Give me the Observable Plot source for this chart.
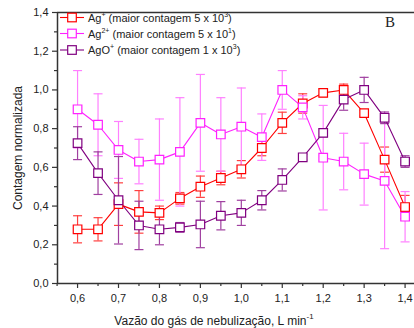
<!DOCTYPE html>
<html><head><meta charset="utf-8">
<script src="https://cdn.jsdelivr.net/npm/d3@7"></script>
<script src="https://cdn.jsdelivr.net/npm/@observablehq/plot@0.6"></script>
<style>
html,body{margin:0;padding:0;background:#fff;}
#chart{position:relative;width:414px;height:328px;overflow:hidden;font-family:"Liberation Sans",Arial,sans-serif;}
</style></head><body><div id="chart"></div>
<script>
const flow = [0.6,0.65,0.7,0.75,0.8,0.85,0.9,0.95,1.0,1.05,1.1,1.15,1.2,1.25,1.3,1.35,1.4];
const agPlus    = [0.28,0.28,0.41,0.37,0.365,0.44,0.50,0.545,0.59,0.70,0.83,0.93,0.985,1.00,0.88,0.64,0.395];
const agPlusErr = [0.07,0.06,0.11,0.11,0.035,0.03,0.055,0.035,0.045,0.04,0.055,0.05,0.02,0.03,0.015,0.065,0.06];
const ag2Plus    = [0.90,0.82,0.69,0.63,0.64,0.68,0.83,0.77,0.81,0.756,1.00,0.91,0.65,0.63,0.565,0.53,0.345];
const ag2PlusErr = [0.2,0.16,0.147,0.115,0.21,0.28,0.25,0.19,0.2,0.12,0.1,0.06,0.27,0.146,0.16,0.35,0.13];
const agOPlus    = [0.725,0.57,0.43,0.30,0.28,0.29,0.305,0.35,0.365,0.43,0.535,0.652,0.778,0.95,1.0,0.856,0.63];
const agOPlusErr = [0.085,0.11,0.226,0.125,0.08,0.025,0.12,0.073,0.065,0.05,0.057,0.015,0.02,0.055,0.065,0.03,0.03];
const seriesNames = ["Ag+","Ag2+","AgO+"];
const legendMain = ["Ag","Ag","AgO"];
const legendCharge = ["+","2+","+"];
const legendRest = [" (maior contagem 5 x 10"," (maior contagem 5 x 10"," (maior contagem 1 x 10"];
const legendExp = ["3","1","3"];
const lineColors = ["#ff0000","#ff22ff","#800080"];
const errColors = ["#ff4040","#ff80ff","#a040a0"];
const xTicks = [0.6,0.7,0.8,0.9,1.0,1.1,1.2,1.3,1.4];
const xMinor = [0.55,0.65,0.75,0.85,0.95,1.05,1.15,1.25,1.35];
const yTicks = [0,0.2,0.4,0.6,0.8,1.0,1.2,1.4];
const yMinor = [0.1,0.3,0.5,0.7,0.9,1.1,1.3];
const xDomain = [0.551, 1.423];
const yDomain = [0, 1.4];

const allVals = [agPlus, ag2Plus, agOPlus];
const allErr = [agPlusErr, ag2PlusErr, agOPlusErr];
const rows = [];
seriesNames.forEach((s, i) => flow.forEach((x, j) => rows.push({series: s, x, y: allVals[i][j], lo: allVals[i][j]-allErr[i][j], hi: allVals[i][j]+allErr[i][j]})));

const squareSym = {draw(ctx){ const h = 4.3; ctx.moveTo(-h,-h); ctx.lineTo(h,-h); ctx.lineTo(h,h); ctx.lineTo(-h,h); ctx.closePath(); }};
const capSym = {draw(ctx){ const w = 4.5; ctx.moveTo(-w,0); ctx.lineTo(w,0); }};
const fmt = d => d.toFixed(1).replace(".", ",");
const errScaleMap = new Map(seriesNames.map((s,i)=>[s, errColors[i]]));
const lineMap = new Map(seriesNames.map((s,i)=>[s, lineColors[i]]));

const marks = [];
seriesNames.forEach(s => {
  const d = rows.filter(r => r.series === s);
  marks.push(Plot.ruleX(d, {x: "x", y1: "lo", y2: "hi", stroke: errScaleMap.get(s), strokeWidth: 1.2}));
  marks.push(Plot.dot(d, {x: "x", y: "hi", symbol: capSym, stroke: errScaleMap.get(s), strokeWidth: 1.2, r: 3}));
  marks.push(Plot.dot(d, {x: "x", y: "lo", symbol: capSym, stroke: errScaleMap.get(s), strokeWidth: 1.2, r: 3}));
});
seriesNames.forEach(s => {
  const d = rows.filter(r => r.series === s);
  marks.push(Plot.line(d, {x: "x", y: "y", stroke: lineMap.get(s), strokeWidth: 1.1}));
});
seriesNames.forEach(s => {
  const d = rows.filter(r => r.series === s);
  marks.push(Plot.dot(d, {x: "x", y: "y", symbol: squareSym, r: 3, stroke: lineMap.get(s), fill: "white", strokeWidth: 1.2}));
});
marks.push(Plot.ruleY([yDomain[0]], {stroke: "#333", strokeWidth: 1.5}));
marks.push(Plot.ruleY([yDomain[1]], {stroke: "#333", strokeWidth: 1.5}));
marks.push(Plot.ruleX([xDomain[0]], {stroke: "#333", strokeWidth: 1.5}));
marks.push(Plot.axisX(xTicks, {tickSize: 5, tickPadding: 6, tickFormat: fmt, fontSize: 11, stroke: "#333", strokeWidth: 1.2, fill: "#222", label: null}));
marks.push(Plot.axisX(xMinor, {tickSize: 3, tickFormat: () => "", stroke: "#333", strokeWidth: 1.2, label: null}));
marks.push(Plot.axisY(yTicks, {tickSize: 5, tickPadding: 4, tickFormat: fmt, fontSize: 11, stroke: "#333", strokeWidth: 1.2, fill: "#222", label: null}));
marks.push(Plot.axisY(yMinor, {tickSize: 3, tickFormat: () => "", stroke: "#333", strokeWidth: 1.2, label: null}));

const chart = Plot.plot({
  width: 414, height: 328,
  marginLeft: 57, marginRight: 0, marginTop: 12, marginBottom: 45,
  style: {fontFamily: '"Liberation Sans", Arial, sans-serif', background: "white", overflow: "visible"},
  x: {domain: xDomain},
  y: {domain: yDomain},
  marks
});
document.getElementById("chart").appendChild(chart);

const svg = d3.select(chart);
const g = svg.append("g").attr("font-family", '"Liberation Sans", Arial, sans-serif').attr("font-size", 11).attr("fill", "#222").attr("text-anchor", "start");
const legendY = [17.5, 33.5, 50];
seriesNames.forEach((s, i) => {
  const y = legendY[i];
  g.append("line").attr("x1", 60).attr("x2", 84).attr("y1", y).attr("y2", y).attr("stroke", lineColors[i]).attr("stroke-width", 1.1);
  g.append("rect").attr("x", 67.7).attr("y", y-4.3).attr("width", 8.6).attr("height", 8.6).attr("fill", "white").attr("stroke", lineColors[i]).attr("stroke-width", 1.2);
  const t = g.append("text").attr("x", 88).attr("y", y + 4);
  t.append("tspan").text(legendMain[i]);
  t.append("tspan").attr("font-size", 7).attr("dy", -5).text(legendCharge[i]);
  t.append("tspan").attr("dy", 5).text(legendRest[i]);
  t.append("tspan").attr("font-size", 7).attr("dy", -5).text(legendExp[i]);
  t.append("tspan").attr("dy", 5).text(")");
});
svg.append("text").attr("x", 385).attr("y", 27).attr("text-anchor", "start").attr("font-family", '"Liberation Serif", "Times New Roman", serif').attr("font-size", 15).attr("fill", "#222").text("B");
svg.append("text").attr("transform", "translate(22,148) rotate(-90)").attr("text-anchor", "middle")
  .attr("font-family", '"Liberation Sans", Arial, sans-serif').attr("font-size", 12).attr("fill", "#222").text("Contagem normalizada");
const xl = svg.append("text").attr("x", 214).attr("y", 325).attr("text-anchor", "middle")
  .attr("font-family", '"Liberation Sans", Arial, sans-serif').attr("font-size", 12).attr("fill", "#222");
xl.append("tspan").text("Vazão do gás de nebulização, L min");
xl.append("tspan").attr("font-size", 8).attr("dy", -6).text("-1");
</script></body></html>
